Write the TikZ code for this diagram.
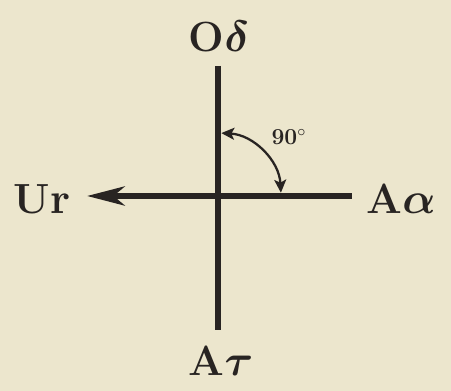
\documentclass[tikz,border=0pt]{standalone}
\usepackage{amsmath,amssymb}
\usepackage{xcolor}
\usepackage{tikz}
\usetikzlibrary{arrows.meta,positioning}

\definecolor{paper}{RGB}{236,230,205}
\definecolor{ink}{RGB}{40,36,34}

\begin{document}
\begin{tikzpicture}[
  x=0.02cm, y=0.02cm,
  axis/.style={draw=ink, line width=3.4pt},
  lbl/.style={text=ink, font=\fontsize{24}{28}\selectfont\bfseries\boldmath, inner sep=0pt},
  ang/.style={draw=ink, line width=1.3pt, {Stealth[length=2.6mm, width=2.4mm, inset=0.6mm]}-{Stealth[length=2.6mm, width=2.4mm, inset=0.6mm]}},
  arr/.style={-{Stealth[length=7.5mm, width=3.8mm, inset=2.2mm]}}
]
  % background and frame size
  \fill[paper] (0,0) rectangle (451,391);
  \useasboundingbox (0,0) rectangle (451,391);

  % axes
  \coordinate (o) at (218,195);
  \coordinate (top) at (218,325);
  \coordinate (bot) at (218,61);
  \coordinate (rgt) at (352,195);
  \coordinate (lft) at (87,195);

  \draw[axis] (top) -- (bot);
  \draw[axis, arr] (rgt) -- (lft);

  % right angle
  \draw[ang] ([shift={(87:63)}]o) arc[start angle=87, end angle=3, radius=63];
  \node[text=ink, font=\fontsize{13}{15}\selectfont\bfseries] (deg) at (289,254) {90$^\circ$};

  % labels
  \node[lbl] (od) at (219,354) {O$\delta$};
  \node[lbl] (ur) at (42,192) {U$\mathbf{r}$};
  \node[lbl] (aa) at (401,192) {A$\alpha$};
  \node[lbl] (at) at (221,30) {A$\tau$};
\end{tikzpicture}
\end{document}
